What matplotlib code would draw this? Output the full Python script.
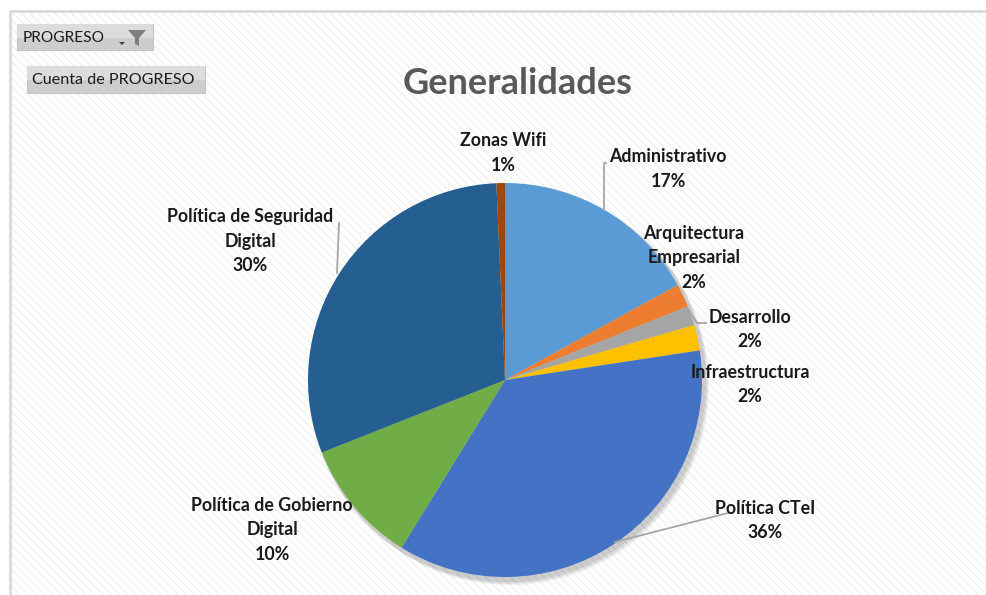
import matplotlib
matplotlib.use("Agg")
import matplotlib.pyplot as plt
from matplotlib.patches import Rectangle, Circle, Polygon

# datos del gráfico (porcentaje de cada categoría)
categorias = ["Administrativo", "Arquitectura\nEmpresarial", "Desarrollo",
              "Infraestructura", "Política CTeI", "Política de Gobierno\nDigital",
              "Política de Seguridad\nDigital", "Zonas Wifi"]
valores = [17.0, 1.9, 1.6, 2.1, 36.2, 10.2, 30.3, 0.7]
etiquetas_pct = ["17%", "2%", "2%", "2%", "36%", "10%", "30%", "1%"]
colores = ["#5B9BD5", "#ED7D31", "#A5A5A5", "#FFC000", "#4472C4",
           "#70AD47", "#255E91", "#9E480E"]

titulo = "Generalidades"
boton_filtro = "PROGRESO"
boton_valor = "Cuenta de PROGRESO"

# ===============================
# Layout (pixeles de la imagen)
# ===============================
W, H = 987, 595
CX, CY, R = 505, 380, 197

# centro de cada bloque de etiqueta
pos_etiquetas = [(668, 169), (694, 258), (750, 329.5), (750, 384.5),
                 (765, 520.5), (272, 530), (250, 241), (503, 153)]
# lineas guia (lista de puntos)
guias = [
    [(604, 210), (604, 163), (606, 163)],
    [(688, 309), (697, 323), (706, 323)],
    [(615, 542), (728, 513), (731, 513)],
    [(337, 273), (339, 223)],
]


def px(x, y):
    return x, H - y


plt.rcParams["font.family"] = ["Lato", "DejaVu Sans"]

fig = plt.figure(figsize=(W / 100, H / 100), dpi=100)
ax = fig.add_axes([0, 0, 1, 1])

# fondo con rayado suave
ax.add_patch(Rectangle(px(10, H), W - 10, H - 11, facecolor="white",
                       edgecolor="#f1f1f1", hatch="\\\\\\\\", linewidth=0, zorder=0))
ax.plot([10, 10, W], [0, H - 11, H - 11], color="#d9d9d9", lw=2, zorder=1)

# sombra del pastel
for i in range(4):
    ax.add_patch(Circle(px(CX + 2 + i, CY + 3 + i), R + 2, color="black",
                        alpha=0.05, lw=0, zorder=1))

ax.pie(valores, colors=colores, startangle=90, counterclock=False,
       center=px(CX, CY), radius=R,
       wedgeprops=dict(linewidth=0, zorder=2))

for pts in guias:
    xs = [p[0] for p in pts]
    ys = [H - p[1] for p in pts]
    ax.plot(xs, ys, color="#a6a6a6", lw=1.3, zorder=3)

for cat, pct, (x, y) in zip(categorias, etiquetas_pct, pos_etiquetas):
    ax.text(x, H - y, cat + "\n" + pct, ha="center", va="center",
            multialignment="center", fontsize=12.8, fontweight="bold",
            color="#1a1a1a", linespacing=1.55, zorder=4)

# titulo
ax.text(518, H - 84, titulo, ha="center", va="center", fontsize=26,
        fontweight="bold", color="#595959")

# botones del grafico dinamico
ax.add_patch(Rectangle(px(17, 50), 136, 26, facecolor="#cdcdcd",
                       edgecolor="#c4c4c4", lw=0.8, zorder=3))
ax.add_patch(Rectangle(px(17, 38), 136, 14, facecolor="#dcdcdc",
                       edgecolor="none", zorder=3))
ax.text(23, H - 38, boton_filtro, ha="left", va="center", fontsize=11.2,
        color="#1a1a1a", zorder=4)
ax.add_patch(Polygon([px(128, 30), px(146, 30), px(139, 38), px(139, 46),
                      px(135, 44), px(135, 38)], closed=True,
                     facecolor="#7f7f7f", edgecolor="none", zorder=4))
ax.add_patch(Polygon([px(119, 42), px(125, 42), px(122, 45)], closed=True,
                     facecolor="#404040", edgecolor="none", zorder=4))

ax.add_patch(Rectangle(px(27, 93), 178, 27, facecolor="#cdcdcd",
                       edgecolor="#c4c4c4", lw=0.8, zorder=3))
ax.add_patch(Rectangle(px(27, 80), 178, 14, facecolor="#dcdcdc",
                       edgecolor="none", zorder=3))
ax.text(32, H - 80, boton_valor, ha="left", va="center", fontsize=11.6,
        color="#1a1a1a", zorder=4)

ax.set_xlim(0, W)
ax.set_ylim(0, H)
ax.set_aspect("auto")
ax.axis("off")

fig.savefig("out.png", dpi=100, facecolor="white")
